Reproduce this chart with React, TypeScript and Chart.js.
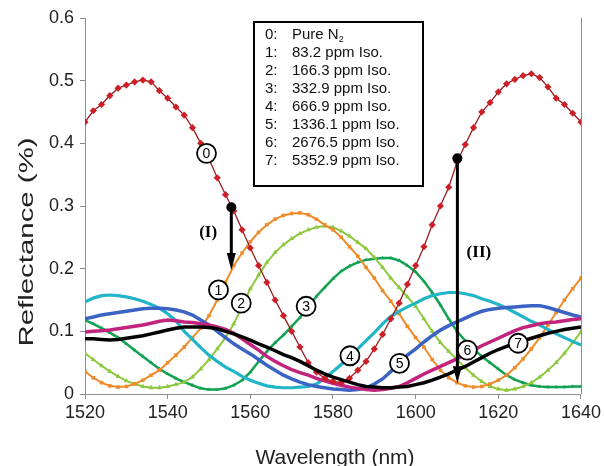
import React, { useEffect, useRef } from "react";
import { Chart, registerables } from "chart.js";

Chart.register(...registerables);

const wavelengths = [
  1520, 1522, 1524, 1526, 1528, 1530, 1532, 1534, 1536, 1538,
  1540, 1542, 1544, 1546, 1548, 1550, 1552, 1554, 1556, 1558,
  1560, 1562, 1564, 1566, 1568, 1570, 1572, 1574, 1576, 1578,
  1580, 1582, 1584, 1586, 1588, 1590, 1592, 1594, 1596, 1598,
  1600, 1602, 1604, 1606, 1608, 1610, 1612, 1614, 1616, 1618,
  1620, 1622, 1624, 1626, 1628, 1630, 1632, 1634, 1636, 1638, 1640,
];

const pureN2 = [
  0.434, 0.452, 0.462, 0.476, 0.488, 0.493, 0.498, 0.501, 0.498, 0.484,
  0.472, 0.458, 0.445, 0.425, 0.400, 0.375, 0.345, 0.318, 0.292, 0.262,
  0.233, 0.205, 0.178, 0.150, 0.125, 0.100, 0.075, 0.050, 0.035, 0.025,
  0.020, 0.018, 0.025, 0.038, 0.052, 0.072, 0.095, 0.120, 0.145, 0.175,
  0.205, 0.235, 0.270, 0.300, 0.330, 0.370, 0.398, 0.425, 0.450, 0.465,
  0.482, 0.495, 0.502, 0.508, 0.511, 0.505, 0.490, 0.472, 0.462, 0.448, 0.434,
];

const iso83 = [
  0.036, 0.026, 0.018, 0.013, 0.011, 0.012, 0.016, 0.022, 0.030, 0.038,
  0.050, 0.062, 0.075, 0.090, 0.105, 0.125, 0.150, 0.178, 0.205, 0.225,
  0.243, 0.258, 0.270, 0.279, 0.285, 0.288, 0.289, 0.286, 0.279, 0.270,
  0.262, 0.250, 0.235, 0.220, 0.202, 0.185, 0.165, 0.148, 0.128, 0.108,
  0.090, 0.075, 0.055, 0.038, 0.026, 0.018, 0.013, 0.011, 0.012, 0.016,
  0.022, 0.030, 0.042, 0.056, 0.072, 0.090, 0.110, 0.130, 0.150, 0.168, 0.185,
];

const iso166 = [
  0.065, 0.055, 0.045, 0.036, 0.028, 0.021, 0.016, 0.012, 0.010, 0.010,
  0.012, 0.015, 0.019, 0.027, 0.040, 0.055, 0.072, 0.090, 0.112, 0.140,
  0.168, 0.190, 0.210, 0.226, 0.238, 0.248, 0.256, 0.262, 0.266, 0.268,
  0.266, 0.260, 0.252, 0.242, 0.232, 0.218, 0.202, 0.185, 0.170, 0.155,
  0.140, 0.120, 0.100, 0.082, 0.068, 0.055, 0.042, 0.030, 0.020, 0.012,
  0.008, 0.006, 0.008, 0.012, 0.018, 0.027, 0.038, 0.050, 0.065, 0.082, 0.099,
];

const iso333 = [
  0.118, 0.112, 0.105, 0.098, 0.090, 0.080, 0.070, 0.060, 0.050, 0.040,
  0.032, 0.025, 0.019, 0.014, 0.009, 0.007, 0.007, 0.009, 0.014, 0.022,
  0.035, 0.052, 0.068, 0.082, 0.094, 0.108, 0.122, 0.138, 0.156, 0.170,
  0.184, 0.196, 0.204, 0.210, 0.214, 0.216, 0.217, 0.217, 0.213, 0.205,
  0.195, 0.180, 0.162, 0.142, 0.120, 0.100, 0.085, 0.072, 0.060, 0.050,
  0.040, 0.030, 0.023, 0.018, 0.014, 0.012, 0.011, 0.011, 0.011, 0.012, 0.012,
];

const iso667 = [
  0.147, 0.153, 0.157, 0.158, 0.157, 0.155, 0.152, 0.148, 0.143, 0.137,
  0.128, 0.117, 0.100, 0.087, 0.074, 0.062, 0.052, 0.043, 0.036, 0.028,
  0.022, 0.017, 0.013, 0.011, 0.010, 0.010, 0.011, 0.012, 0.016, 0.025,
  0.036, 0.047, 0.058, 0.072, 0.085, 0.098, 0.112, 0.124, 0.132, 0.139,
  0.145, 0.152, 0.157, 0.160, 0.162, 0.162, 0.160, 0.157, 0.152, 0.148,
  0.143, 0.137, 0.130, 0.123, 0.116, 0.110, 0.103, 0.096, 0.090, 0.084, 0.078,
];

const iso1336 = [
  0.120, 0.123, 0.126, 0.128, 0.130, 0.132, 0.134, 0.136, 0.137, 0.137,
  0.136, 0.134, 0.131, 0.126, 0.118, 0.110, 0.100, 0.090, 0.080, 0.072,
  0.064, 0.055, 0.046, 0.038, 0.030, 0.024, 0.019, 0.015, 0.012, 0.010,
  0.008, 0.007, 0.006, 0.007, 0.010, 0.016, 0.024, 0.036, 0.050, 0.062,
  0.072, 0.083, 0.093, 0.102, 0.109, 0.115, 0.121, 0.127, 0.132, 0.135,
  0.137, 0.138, 0.139, 0.140, 0.141, 0.141, 0.138, 0.134, 0.130, 0.126, 0.123,
];

const iso2677 = [
  0.099, 0.100, 0.101, 0.102, 0.104, 0.106, 0.108, 0.110, 0.113, 0.116,
  0.118, 0.117, 0.115, 0.114, 0.112, 0.110, 0.107, 0.103, 0.097, 0.088,
  0.079, 0.070, 0.060, 0.052, 0.045, 0.039, 0.034, 0.030, 0.025, 0.021,
  0.017, 0.014, 0.011, 0.009, 0.007, 0.006, 0.007, 0.009, 0.012, 0.018,
  0.025, 0.032, 0.038, 0.044, 0.050, 0.056, 0.063, 0.070, 0.077, 0.083,
  0.089, 0.095, 0.101, 0.106, 0.109, 0.112, 0.114, 0.115, 0.117, 0.119, 0.120,
];

const iso5353 = [
  0.088, 0.088, 0.087, 0.086, 0.087, 0.089, 0.091, 0.093, 0.096, 0.099,
  0.102, 0.105, 0.107, 0.107, 0.107, 0.106, 0.104, 0.100, 0.096, 0.091,
  0.086, 0.080, 0.075, 0.069, 0.063, 0.058, 0.052, 0.045, 0.038, 0.032,
  0.027, 0.023, 0.019, 0.015, 0.012, 0.011, 0.010, 0.010, 0.011, 0.012,
  0.015, 0.018, 0.022, 0.027, 0.032, 0.038, 0.044, 0.051, 0.058, 0.065,
  0.071, 0.076, 0.081, 0.085, 0.089, 0.093, 0.097, 0.100, 0.103, 0.105, 0.107,
];

const legendKeys = ["0:", "1:", "2:", "3:", "4:", "5:", "6:", "7:"];
const legendTexts = [
  "Pure N",
  "83.2 ppm Iso.",
  "166.3 ppm Iso.",
  "332.9 ppm Iso.",
  "666.9 ppm Iso.",
  "1336.1 ppm Iso.",
  "2676.5 ppm Iso.",
  "5352.9 ppm Iso.",
];

const curveTags = ["0", "1", "2", "3", "4", "5", "6", "7"];
const curveTagX = [1549.4, 1552.3, 1557.8, 1573.5, 1584.1, 1596.1, 1612.5, 1624.8];
const curveTagY = [0.384, 0.166, 0.145, 0.14, 0.061, 0.049, 0.07, 0.081];

const arrowTexts = ["(I)", "(II)"];
const arrowX = [1555.4, 1610.1];
const arrowFrom = [0.298, 0.376];
const arrowTo = [0.198, 0.017];
const arrowTextX = [1549.8, 1615.3];
const arrowTextY = [0.257, 0.225];

const xTicks = [1520, 1540, 1560, 1580, 1600, 1620, 1640];
const yTicks = [0, 0.1, 0.2, 0.3, 0.4, 0.5, 0.6];

const FONT = "'Liberation Sans', Arial, Helvetica, sans-serif";

const pts = (vals: number[]) => wavelengths.map((w, i) => ({ x: w, y: vals[i] }));

const overlay = {
  id: "overlay",
  afterDatasetsDraw(chart: any) {
    const { ctx, chartArea } = chart;
    const xs = chart.scales.x;
    const ys = chart.scales.y;
    ctx.save();

    // right border
    ctx.strokeStyle = "#8c8c8c";
    ctx.lineWidth = 1;
    ctx.beginPath();
    ctx.moveTo(Math.round(chartArea.right) + 0.5, chartArea.top);
    ctx.lineTo(Math.round(chartArea.right) + 0.5, chartArea.bottom);
    ctx.stroke();

    // arrows
    for (let i = 0; i < arrowX.length; i++) {
      const px = xs.getPixelForValue(arrowX[i]);
      const y0 = ys.getPixelForValue(arrowFrom[i]);
      const y1 = ys.getPixelForValue(arrowTo[i]);
      ctx.strokeStyle = "#000";
      ctx.fillStyle = "#000";
      ctx.lineWidth = 3;
      ctx.beginPath();
      ctx.moveTo(px, y0);
      ctx.lineTo(px, y1 - 12);
      ctx.stroke();
      ctx.beginPath();
      ctx.moveTo(px, y1);
      ctx.lineTo(px - 4.5, y1 - 17);
      ctx.lineTo(px + 4.5, y1 - 17);
      ctx.closePath();
      ctx.fill();
      ctx.beginPath();
      ctx.arc(px, y0, 5, 0, Math.PI * 2);
      ctx.fill();
      ctx.font = "bold 17px 'Liberation Serif', 'Times New Roman', serif";
      ctx.textAlign = "center";
      ctx.textBaseline = "middle";
      ctx.fillText(arrowTexts[i], xs.getPixelForValue(arrowTextX[i]), ys.getPixelForValue(arrowTextY[i]));
    }

    // circled curve tags
    for (let i = 0; i < curveTags.length; i++) {
      const cx = xs.getPixelForValue(curveTagX[i]);
      const cy = ys.getPixelForValue(curveTagY[i]);
      ctx.beginPath();
      ctx.arc(cx, cy, 9.5, 0, Math.PI * 2);
      ctx.fillStyle = "#fff";
      ctx.fill();
      ctx.lineWidth = 1.8;
      ctx.strokeStyle = "#000";
      ctx.stroke();
      ctx.fillStyle = "#000";
      ctx.font = `14px ${FONT}`;
      ctx.textAlign = "center";
      ctx.textBaseline = "middle";
      ctx.fillText(curveTags[i], cx, cy + 1);
    }

    // legend box
    const bx = 254, by = 22, bw = 169, bh = 164;
    ctx.fillStyle = "#fff";
    ctx.fillRect(bx, by, bw, bh);
    ctx.lineWidth = 2;
    ctx.strokeStyle = "#000";
    ctx.strokeRect(bx, by, bw, bh);
    ctx.fillStyle = "#111";
    ctx.textAlign = "left";
    ctx.textBaseline = "middle";
    for (let i = 0; i < legendKeys.length; i++) {
      const ty = by + 13 + i * 18;
      ctx.font = `15px ${FONT}`;
      ctx.fillText(legendKeys[i], bx + 11, ty);
      ctx.fillText(legendTexts[i], bx + 38, ty);
      if (i === 0) {
        const w = ctx.measureText(legendTexts[i]).width;
        ctx.font = `9px ${FONT}`;
        ctx.fillText("2", bx + 38 + w, ty + 5);
      }
    }

    ctx.restore();
  },
  afterDraw(chart: any) {
    const { ctx } = chart;
    ctx.save();
    ctx.fillStyle = "#222";
    ctx.textAlign = "center";
    ctx.textBaseline = "middle";
    ctx.font = `21px ${FONT}`;
    ctx.fillText("Wavelength (nm)", 335, 458);
    ctx.translate(27, 242);
    ctx.rotate(-Math.PI / 2);
    ctx.scale(1.4, 1);
    ctx.font = `21px ${FONT}`;
    ctx.fillText("Reflectance (%)", 0, 0);
    ctx.restore();
  },
};

export default function App() {
  const ref = useRef<HTMLCanvasElement | null>(null);

  useEffect(() => {
    if (!ref.current) return;
    const lineDs = (label: string, vals: number[], color: string, width: number, extra: any = {}) => ({
      label,
      data: pts(vals),
      borderColor: color,
      backgroundColor: color,
      borderWidth: width,
      pointRadius: 0,
      tension: 0,
      ...extra,
    });
    const datasets = [
      lineDs("5352.9 ppm", iso5353, "#000000", 3.5),
      lineDs("Pure N2", pureN2, "#9a1c20", 1.3, {
        pointRadius: 3.6,
        pointStyle: "rectRot",
        pointBackgroundColor: "#cc1f27",
        pointBorderColor: "#cc1f27",
        pointBorderWidth: 0,
      }),
      lineDs("2676.5 ppm", iso2677, "#c2237c", 3.5),
      lineDs("1336.1 ppm", iso1336, "#3a63c4", 3.5),
      lineDs("666.9 ppm", iso667, "#22b5c9", 3.2),
      lineDs("83.2 ppm", iso83, "#ef8a2a", 2, {
        pointRadius: 2.5,
        pointStyle: "rect",
        pointBorderWidth: 0,
      }),
      lineDs("166.3 ppm", iso166, "#8dc83f", 2, {
        pointRadius: 2.9,
        pointStyle: "triangle",
        pointBorderWidth: 0,
      }),
      lineDs("332.9 ppm", iso333, "#13a152", 2.5, {
        pointRadius: 2.3,
        pointStyle: "triangle",
        pointBorderWidth: 0,
      }),
    ];

    const chart = new Chart(ref.current, {
      type: "line",
      data: { datasets },
      options: {
        responsive: false,
        animation: false,
        devicePixelRatio: 1,
        layout: { padding: { left: 0, top: 18, right: 21, bottom: 0 } },
        plugins: {
          legend: { display: false },
          tooltip: { enabled: false },
        },
        scales: {
          x: {
            type: "linear",
            min: 1520,
            max: 1640,
            afterFit: (s: any) => {
              s.height = 72;
            },
            afterBuildTicks: (s: any) => {
              s.ticks = xTicks.map((v) => ({ value: v }));
            },
            grid: { drawOnChartArea: false, tickLength: 5, color: "#8c8c8c" },
            border: { color: "#8c8c8c", width: 1 },
            ticks: {
              color: "#222",
              padding: 3,
              maxRotation: 0,
              font: { family: FONT, size: 18 },
              callback: (v: any) => String(v),
            },
          },
          y: {
            type: "linear",
            min: 0,
            max: 0.6,
            afterFit: (s: any) => {
              s.width = 85;
            },
            afterBuildTicks: (s: any) => {
              s.ticks = yTicks.map((v) => ({ value: v }));
            },
            grid: { drawOnChartArea: false, tickLength: 5, color: "#8c8c8c" },
            border: { color: "#8c8c8c", width: 1 },
            ticks: {
              color: "#222",
              padding: 6,
              font: { family: FONT, size: 18 },
              callback: (v: any) => String(Math.round(Number(v) * 10) / 10),
            },
          },
        },
      },
      plugins: [overlay],
    });
    return () => chart.destroy();
  }, []);

  return (
    <div style={{ position: "fixed", left: 0, top: 0, width: 604, height: 466, background: "#fff" }}>
      <canvas ref={ref} width={604} height={466} style={{ width: 604, height: 466, display: "block" }} />
    </div>
  );
}
